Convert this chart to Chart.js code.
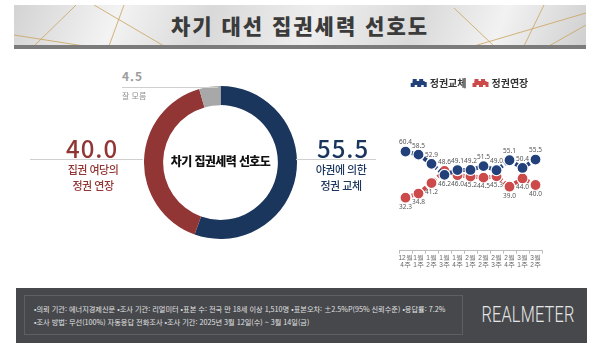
<!DOCTYPE html>
<html lang="ko">
<head>
<meta charset="utf-8">
<title>차기 대선 집권세력 선호도</title>
<script src="https://cdn.jsdelivr.net/npm/chart.js@4.4.1/dist/chart.umd.min.js"></script>
<style>
  html, body { margin: 0; padding: 0; background: #fff; }
  body { width: 600px; height: 348px; overflow: hidden; font-family: "Noto Sans CJK KR", "Noto Sans", sans-serif; }
  #stage { position: relative; width: 600px; height: 348px; }
  .abs { position: absolute; }
  #banner { left: 14px; top: 5px; width: 572px; height: 41px;
    background: linear-gradient(112deg, #d3d3d3 0%, #f3f3f3 18%, #d9d9d9 34%, #eeeeee 52%, #dadada 70%, #f2f2f2 84%, #cfcfcf 100%); overflow: hidden; }
  #bannerBar { left: 14px; top: 45px; width: 572px; height: 4px; background: #7b7b7b; }
  #title { left: 0; top: 5px; width: 600px; height: 40px; line-height: 40px; text-align: center;
    font-size: 21px; font-weight: 900; color: #3b3b3b; letter-spacing: 2px; }
  .rule { height: 1px; background: #cfcfcf; }
  .big { font-size: 24px; font-weight: 500; letter-spacing: 1px; line-height: 1; }
  .sub { font-size: 11px; line-height: 16px; text-align: center; letter-spacing: -0.5px; font-weight: 500; }
  #centerText { left: 144px; top: 152px; width: 153px; text-align: center; font-size: 12px; font-weight: 900; color: #111; letter-spacing: -0.6px; }
  #footer { left: 16px; top: 288px; width: 571px; height: 55px; background: #46484c; }
  #footBox { left: 24px; top: 295px; width: 439px; height: 40px; border: 1px solid #5d5f63; box-sizing: border-box; }
  .foot { left: 34px; font-size: 7.2px; color: #e2e2e2; white-space: nowrap; line-height: 10px; }
  #brand { left: 458px; top: 302px; width: 140px; text-align: center; font-family: Roboto, "Open Sans", sans-serif;
    font-size: 22px; color: #e6e6e6; font-weight: 300; letter-spacing: 0.3px; transform: scaleX(0.74); transform-origin: 70px 50%; line-height: 26px; }
</style>
</head>
<body>
<div id="stage">
  <div id="banner" class="abs">
    <svg width="572" height="41" style="position:absolute;left:0;top:0">
      <g stroke="#c9a35c" stroke-width="0.8" fill="none">
        <line x1="20" y1="41" x2="62" y2="0"/>
        <line x1="0" y1="30" x2="70" y2="41"/>
        <line x1="80" y1="0" x2="150" y2="41"/>
        <line x1="110" y1="0" x2="95" y2="41"/>
        <line x1="480" y1="41" x2="440" y2="3"/>
        <line x1="530" y1="0" x2="510" y2="41"/>
        <line x1="572" y1="20" x2="535" y2="41"/>
        <line x1="460" y1="41" x2="572" y2="8"/>
      </g>
    </svg>
  </div>
  <div id="bannerBar" class="abs"></div>
  <div id="title" class="abs">차기 대선 집권세력 선호도</div>

  <!-- donut -->
  <div class="abs" style="left:144px;top:86px;width:153px;height:153px"><canvas id="donut"></canvas></div>
  <div id="centerText" class="abs">차기 집권세력 선호도</div>

  <div class="abs big" style="left:122px;top:70px;font-size:12px;color:#9c9c9c;font-weight:700;letter-spacing:1px">4.5</div>
  <div class="abs rule" style="left:122px;top:87px;width:96px"></div>
  <div class="abs" style="left:122px;top:90px;font-size:8px;color:#8e8e8e">잘 모름</div>

  <div class="abs big" style="left:66px;top:136px;color:#923535">40.0</div>
  <div class="abs rule" style="left:30px;top:159px;width:113px"></div>
  <div class="abs sub" style="left:53px;top:161px;width:80px;color:#923535">집권 여당의<br>정권 연장</div>

  <div class="abs big" style="left:317px;top:136px;color:#1b365d">55.5</div>
  <div class="abs rule" style="left:296px;top:159px;width:80px"></div>
  <div class="abs sub" style="left:301px;top:161px;width:80px;color:#1b365d">야권에 의한<br>정권 교체</div>

  <!-- trend -->
  <div class="abs" style="left:380px;top:70px;width:180px;height:200px"><canvas id="trend"></canvas></div>

  <!-- footer -->
  <div id="footer" class="abs"></div>
  <div id="footBox" class="abs"></div>
  <div class="abs foot" style="top:304px">•의뢰 기관: 에너지경제신문 •조사 기관: 리얼미터 •표본 수: 전국 만 18세 이상 1,510명 •표본오차: ±2.5%P(95% 신뢰수준) •응답률: 7.2%</div>
  <div class="abs foot" style="top:317px">•조사 방법: 무선(100%) 자동응답 전화조사 •조사 기간: 2025년 3월 12일(수) ~ 3월 14일(금)</div>
  <div id="brand" class="abs">REALMETER</div>
</div>

<script>
// donut data
const shareLabels = ['야권에 의한 정권 교체', '집권 여당의 정권 연장', '잘 모름'];
const shareValues = [55.5, 40.0, 4.5];
const shareColors = ['#1b365d', '#923535', '#a8a8a8'];

// trend data
const weeks = [['12월', '4주'], ['1월', '1주'], ['1월', '2주'], ['1월', '3주'], ['1월', '4주'], ['2월', '1주'],
               ['2월', '2주'], ['2월', '3주'], ['2월', '4주'], ['3월', '1주'], ['3월', '2주']];
const change = [60.4, 58.5, 52.9, 46.2, 49.1, 49.2, 51.5, 49.0, 55.1, 50.4, 55.5];
const extend = [32.3, 34.8, 41.2, 48.6, 46.0, 45.2, 44.5, 45.3, 39.0, 44.0, 40.0];

new Chart(document.getElementById('donut'), {
    type: 'doughnut',
    data: {
        labels: shareLabels,
        datasets: [{ data: shareValues, backgroundColor: shareColors, borderWidth: 0 }]
    },
    options: {
        responsive: true,
        maintainAspectRatio: false,
        animation: false,
        cutout: '75%',
        events: [],
        plugins: { legend: { display: false }, tooltip: { enabled: false } }
    }
});

// value labels: the higher series gets its label above, the lower one below
const pointLabels = {
    id: 'pointLabels',
    afterDatasetsDraw(chart) {
        const { ctx } = chart;
        const sets = chart.data.datasets;
        ctx.save();
        ctx.font = '6.5px "Noto Sans", sans-serif';
        ctx.fillStyle = '#555';
        ctx.textAlign = 'center';
        ctx.textBaseline = 'middle';
        sets.forEach((ds, di) => {
            const other = sets[1 - di].data;
            chart.getDatasetMeta(di).data.forEach((pt, i) => {
                const up = ds.data[i] >= other[i];
                ctx.fillText(ds.data[i].toFixed(1), pt.x, pt.y + (up ? -9 : 9));
            });
        });
        ctx.restore();
    }
};

new Chart(document.getElementById('trend'), {
    type: 'line',
    data: {
        labels: weeks,
        datasets: [
            { label: '정권교체', data: change, borderColor: '#22407a', backgroundColor: '#22407a',
              borderWidth: 4, borderDash: [4, 2.5], pointRadius: 5.5, pointBorderColor: '#fff', pointBorderWidth: 1.2, pointBackgroundColor: '#22407a' },
            { label: '정권연장', data: extend, borderColor: '#cc4a4a', backgroundColor: '#cc4a4a',
              borderWidth: 4, borderDash: [4, 2.5], pointRadius: 5.5, pointBorderColor: '#fff', pointBorderWidth: 1.2, pointBackgroundColor: '#cc4a4a' }
        ]
    },
    options: {
        responsive: true,
        maintainAspectRatio: false,
        animation: false,
        events: [],
        layout: { padding: { left: 19, right: 18, top: 0, bottom: 0 } },
        scales: {
            x: {
                offset: true,
                grid: { display: true, drawOnChartArea: false, drawTicks: true, tickLength: 3, offset: true, color: '#bdbdbd' },
                border: { color: '#bdbdbd' },
                ticks: { color: '#666', font: { size: 6.5, lineHeight: 1.1 }, padding: 1, maxRotation: 0, autoSkip: false }
            },
            y: { display: false, min: 0, max: 93 }
        },
        plugins: {
            legend: {
                display: true,
                labels: { color: '#333', font: { size: 10, weight: 'bold', family: '"Noto Sans CJK KR"' }, boxWidth: 12, boxHeight: 4, padding: 8 }
            },
            tooltip: { enabled: false }
        }
    },
    plugins: [pointLabels]
});
</script>
</body>
</html>
